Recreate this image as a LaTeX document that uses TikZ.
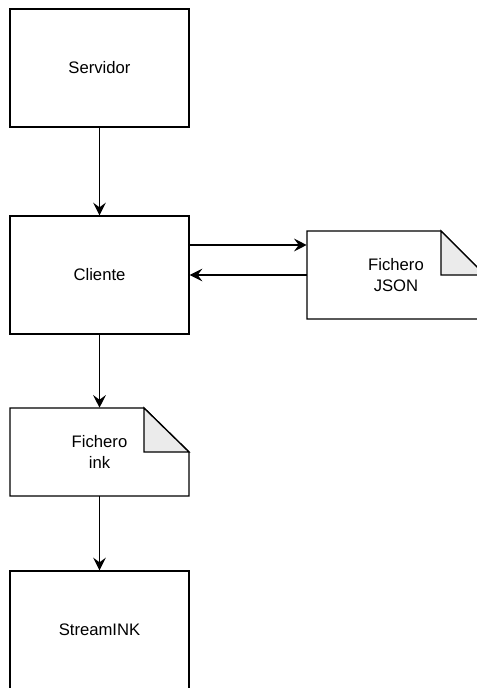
\documentclass[tikz,border=0pt]{standalone}
\usepackage{fontspec}
\setmainfont{Liberation Sans}
\usetikzlibrary{arrows.meta}
\begin{document}
\begin{tikzpicture}[x=0.75pt,y=-0.75pt,
  txt/.style={font=\fontsize{12.5}{15.75}\selectfont, align=center},
  box/.style={draw, line width=1pt, fill=white, minimum width=134.25pt, minimum height=88.5pt, inner sep=0pt, txt},
  notefold/.style={line width=1pt, fill=black!8},
  notebody/.style={line width=1pt, fill=white},
  arr/.style={draw, line width=1pt, -{Stealth[length=9.5pt,width=9.5pt,inset=3.5pt]}}]
\useasboundingbox (0,0) rectangle (476,688);
\node[box] (srv) at (99.5,68) {Servidor};
\node[box] (cli) at (99.5,275) {Cliente};
\node[box] (stream) at (99.5,630) {StreamINK};
% Fichero ink note
\node[draw=none, minimum width=134.25pt, minimum height=66pt, inner sep=0pt] (ink) at (99.5,452) {};
\draw[notebody] (10,408) -- (144,408) -- (189,452) -- (189,496) -- (10,496) -- cycle;
\draw[notefold] (144,408) -- (144,452) -- (189,452) -- cycle;
\node[txt] at (ink.center) {Fichero\\ink};
% Fichero JSON note
\node[draw=none, minimum width=133.5pt, minimum height=66pt, inner sep=0pt] (json) at (396,275) {};
\draw[notebody] (307,231) -- (441,231) -- (485,275) -- (485,319) -- (307,319) -- cycle;
\draw[notefold] (441,231) -- (441,275) -- (485,275) -- cycle;
\node[txt] at (json.center) {Fichero\\JSON};
% connectors
\draw[arr] (srv.south) -- (cli.north);
\draw[arr] (cli.south) -- (ink.north);
\draw[arr] (ink.south) -- (stream.north);
\draw[arr] (cli.east |- 0,245) -- (json.west |- 0,245);
\draw[arr] (json.west) -- (cli.east);
\end{tikzpicture}
\end{document}
